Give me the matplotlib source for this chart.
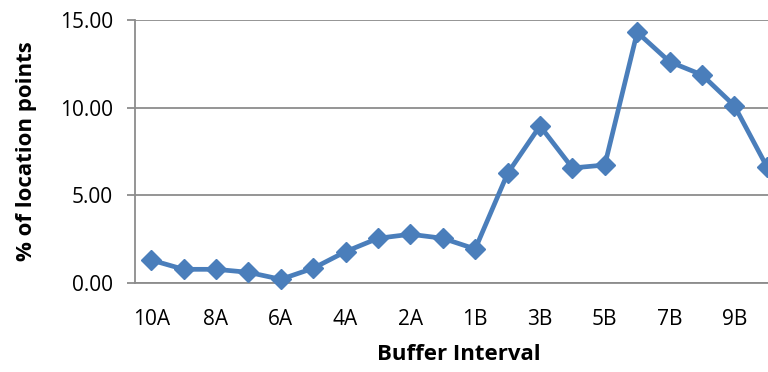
import matplotlib
matplotlib.use("Agg")
import matplotlib.pyplot as plt

categories = ["10A", "9A", "8A", "7A", "6A", "5A", "4A", "3A", "2A", "1A",
              "1B", "2B", "3B", "4B", "5B", "6B", "7B", "8B", "9B", "10B"]
values = [1.31, 0.78, 0.78, 0.61, 0.21, 0.84, 1.79, 2.55, 2.78, 2.55,
          1.94, 6.25, 8.96, 6.56, 6.73, 14.3, 12.62, 11.87, 10.11, 6.64]
yticks = [0, 5, 10, 15]

plt.rcParams['font.family'] = ['Open Sans', 'DejaVu Sans']

W, H = 768, 372
fig = plt.figure(figsize=(W / 100, H / 100), dpi=100)
# plot area runs past the right edge of the image (clipped like the original)
left, right, top, bottom = 135, 783, 20, 283
ax = fig.add_axes([left / W, 1 - bottom / H, (right - left) / W, (bottom - top) / H])

x = range(len(categories))
ax.plot(x, values, color="#4a7ebb", lw=3.4, marker="D", ms=10,
        markeredgecolor="#4a7ebb", clip_on=False, zorder=3)

ax.set_xlim(-0.5, len(categories) - 0.5)
ax.set_ylim(0, 15)
ax.set_yticks(yticks)
ax.set_yticklabels(["%.2f" % v for v in yticks])
ax.set_xticks(list(x)[::2])
ax.set_xticklabels(categories[::2])

ax.grid(axis="y", color="#8c8c8c", lw=1.3)
ax.set_axisbelow(True)
for s in ["top", "right"]:
    ax.spines[s].set_visible(False)
for s in ["left", "bottom"]:
    ax.spines[s].set_color("#8c8c8c")
    ax.spines[s].set_linewidth(1.3)
ax.tick_params(axis="y", length=6, color="#8c8c8c", width=1.3, labelsize=15, pad=10)
ax.tick_params(axis="x", length=0, labelsize=15, pad=19)

ax.set_ylabel("% of location points", fontsize=16, fontweight="bold", va="center")
ax.set_xlabel("Buffer Interval", fontsize=16, fontweight="bold", va="center")
ax.yaxis.set_label_coords((27 - left) / (right - left), 0.5)
ax.xaxis.set_label_coords(0.5, (bottom - 355) / (bottom - top))

fig.savefig("out.png", dpi=100)
